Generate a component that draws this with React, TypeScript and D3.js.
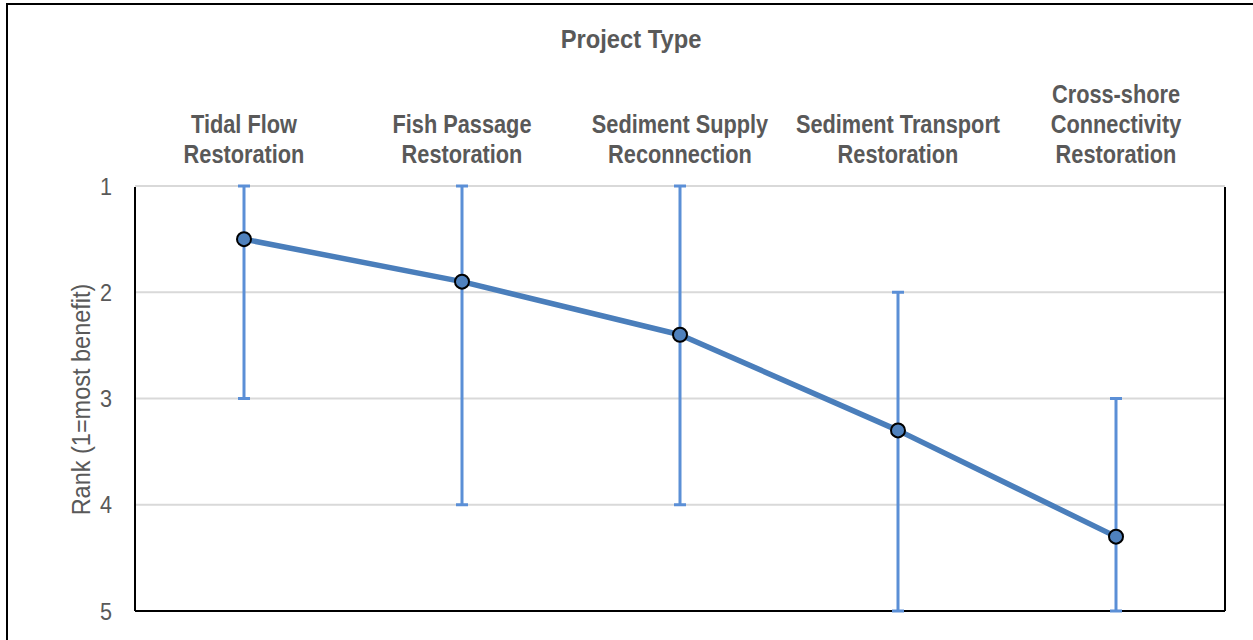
import React from "react";
import * as d3 from "d3";

const categories: string[][] = [
  ["Tidal Flow", "Restoration"],
  ["Fish Passage", "Restoration"],
  ["Sediment Supply", "Reconnection"],
  ["Sediment Transport", "Restoration"],
  ["Cross-shore", "Connectivity", "Restoration"],
];
const meanRank: number[] = [1.5, 1.9, 2.4, 3.3, 4.3];
const minRank: number[] = [1, 1, 1, 2, 3];
const maxRank: number[] = [3, 4, 4, 5, 5];
const yTicks: number[] = [1, 2, 3, 4, 5];
const chartTitle = "Project Type";
const yTitle = "Rank (1=most benefit)";

const W = 1253;
const H = 640;
const plot = { left: 135, right: 1225, top: 186, bottom: 611 };
const FONT = "'Liberation Sans Narrow', 'Arial Narrow', 'Liberation Sans', Arial, sans-serif";
const TEXT = "#595959";
const NARROW_B = 0.87;
const NARROW_R = 0.9;

export default function App() {
  const x = d3
    .scaleBand<number>()
    .domain(categories.map((_, i) => i))
    .range([plot.left, plot.right]);
  const y = d3.scaleLinear().domain([1, 5]).range([plot.top, plot.bottom]);
  const cx = (i: number) => (x(i) as number) + x.bandwidth() / 2;
  const line = d3
    .line<number>()
    .x((_, i) => cx(i))
    .y((d) => y(d));

  return (
    <svg
      width={W}
      height={H}
      style={{ position: "absolute", left: 0, top: 0, background: "#fff" }}
      fontFamily={FONT}
    >
      <rect x={0} y={0} width={W} height={H} fill="#fff" />
      {/* outer border */}
      <rect x={7} y={4} width={W + 20} height={H + 20} fill="none" stroke="#000" strokeWidth={2} />

      {/* gridlines */}
      {yTicks.map((t) => (
        <line
          key={"g" + t}
          x1={plot.left}
          x2={plot.right}
          y1={y(t)}
          y2={y(t)}
          stroke="#d9d9d9"
          strokeWidth={2}
        />
      ))}
      {/* plot borders */}
      <line x1={plot.left} x2={plot.left} y1={plot.top + 1} y2={plot.bottom} stroke="#000" strokeWidth={2} />
      <line x1={plot.right} x2={plot.right} y1={plot.top + 1} y2={plot.bottom} stroke="#000" strokeWidth={2} />
      <line x1={plot.left} x2={plot.right} y1={plot.bottom} y2={plot.bottom} stroke="#000" strokeWidth={2} />

      {/* y tick labels */}
      {yTicks.map((t) => (
        <g key={"t" + t} transform={`translate(112,${y(t)}) scale(${NARROW_R},1)`}>
          <text x={0} y={0} dy="0.36em" textAnchor="end" fontSize={24} fill={TEXT}>
            {t}
          </text>
        </g>
      ))}

      {/* y title */}
      <g transform={`translate(90,${(plot.top + plot.bottom) / 2 + 1}) rotate(-90) scale(0.94,1)`}>
        <text x={0} y={0} textAnchor="middle" fontSize={25} fill={TEXT}>
          {yTitle}
        </text>
      </g>

      {/* chart title */}
      <g transform={`translate(631,48) scale(0.95,1)`}>
        <text x={0} y={0} textAnchor="middle" fontSize={25} fontWeight="bold" fill={TEXT}>
          {chartTitle}
        </text>
      </g>

      {/* category labels */}
      {categories.map((lines, i) => (
        <g key={"c" + i} transform={`translate(${cx(i)},0) scale(${NARROW_B},1)`}>
          <text textAnchor="middle" fontSize={25} fontWeight="bold" fill={TEXT}>
            {lines.map((l, j) => (
              <tspan key={j} x={0} y={163 - (lines.length - 1 - j) * 30}>
                {l}
              </tspan>
            ))}
          </text>
        </g>
      ))}

      {/* error bars */}
      {meanRank.map((_, i) => (
        <g key={"e" + i} stroke="#5b8fd6">
          <line x1={cx(i)} x2={cx(i)} y1={y(minRank[i])} y2={y(maxRank[i])} strokeWidth={3} />
          <line x1={cx(i) - 6} x2={cx(i) + 6} y1={y(minRank[i])} y2={y(minRank[i])} strokeWidth={3} />
          <line x1={cx(i) - 6} x2={cx(i) + 6} y1={y(maxRank[i])} y2={y(maxRank[i])} strokeWidth={3} />
        </g>
      ))}

      {/* series line */}
      <path d={line(meanRank) || ""} fill="none" stroke="#4a7ebb" strokeWidth={5.5} strokeLinejoin="round" />
      {meanRank.map((v, i) => (
        <circle key={"p" + i} cx={cx(i)} cy={y(v)} r={7} fill="#4f81bd" stroke="#000" strokeWidth={2} />
      ))}
    </svg>
  );
}
